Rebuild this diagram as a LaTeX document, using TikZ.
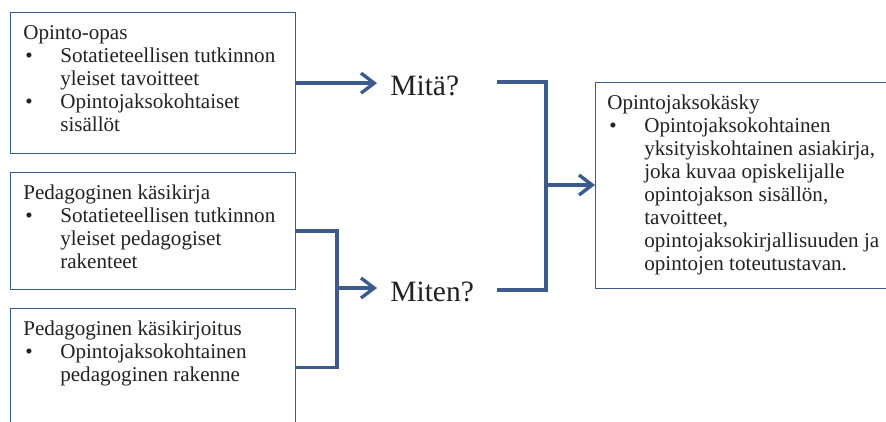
\documentclass[tikz,border=0pt]{standalone}
\usepackage{fontspec}
\setmainfont{Liberation Serif}
\usetikzlibrary{arrows.meta}

\definecolor{lineblue}{HTML}{3B5B8E}
\definecolor{txtgray}{HTML}{222222}

\newcommand{\bul}[1]{\makebox[0.925cm][l]{\hspace{0.05cm}\textbullet}#1}
\newcommand{\cont}[1]{\hspace{0.925cm}#1}

\begin{document}
\begin{tikzpicture}[x=0.025cm, y=-0.025cm,
  srcbox/.style={draw=lineblue, line width=0.9pt, inner sep=0pt, anchor=north west},
  boxtext/.style={anchor=north west, inner sep=0pt, align=left, text=txtgray,
    font=\fontsize{15}{16.35}\selectfont, xshift=0.325cm, yshift=-0.32cm},
  ask/.style={anchor=base west, inner xsep=0.325cm, inner ysep=0pt, text=txtgray,
    font=\fontsize{21}{24}\selectfont},
  link/.style={draw=lineblue, line width=2.4pt},
  arr/.style={link, -{Straight Barb[length=0.33cm, width=0.5cm]}}]

\useasboundingbox (0,0) rectangle (886,421);
\clip (0,0) rectangle (886,421);
\fill[white] (0,0) rectangle (886,421);

% Left boxes
\node[srcbox, minimum width=7.125cm, minimum height=3.525cm] (opas) at (10,12) {};
\node[srcbox, minimum width=7.125cm, minimum height=2.925cm] (kirja) at (10,172) {};
\node[srcbox, minimum width=7.125cm, minimum height=2.95cm] (kirjoitus) at (10,308) {};

\node[boxtext] (opastxt) at (opas.north west) {Opinto-opas\\
  \bul{Sotatieteellisen tutkinnon}\\ \cont{yleiset tavoitteet}\\
  \bul{Opintojaksokohtaiset}\\ \cont{sisällöt}};
\node[boxtext] (kirjatxt) at (kirja.north west) {Pedagoginen käsikirja\\
  \bul{Sotatieteellisen tutkinnon}\\ \cont{yleiset pedagogiset}\\ \cont{rakenteet}};
\node[boxtext] (kirjoitustxt) at (kirjoitus.north west) {Pedagoginen käsikirjoitus\\
  \bul{Opintojaksokohtainen}\\ \cont{pedagoginen rakenne}};

% Questions
\node[ask] (mita) at (377,95) {Mitä?};
\node[ask] (miten) at (377,301) {Miten?};

% Right box
\node[srcbox, minimum width=7.5cm, minimum height=5.15cm] (kasky) at (595,82) {};
\node[boxtext, xshift=-0.025cm] (kaskytxt) at (kasky.north west) {Opintojaksokäsky\\
  \bul{Opintojaksokohtainen}\\ \cont{yksityiskohtainen asiakirja,}\\
  \cont{joka kuvaa opiskelijalle}\\ \cont{opintojakson sisällön,}\\
  \cont{tavoitteet,}\\ \cont{opintojaksokirjallisuuden ja}\\
  \cont{opintojen toteutustavan.}};

% Connectors
\coordinate (split) at (337,288);
\coordinate (mitaout) at (497,82);
\coordinate (mitenout) at (497,290);
\coordinate (join) at (546,185);

\draw[arr] (opas.east) -- (opas.east -| mita.west);
\draw[link] (kirja.east) -| (split) |- (kirjoitus.east);
\draw[arr] (split) -- (split -| miten.west);
\draw[link] (mitaout) -| (join) |- (mitenout);
\draw[arr] (join) -- (join -| kasky.west);

\end{tikzpicture}
\end{document}
